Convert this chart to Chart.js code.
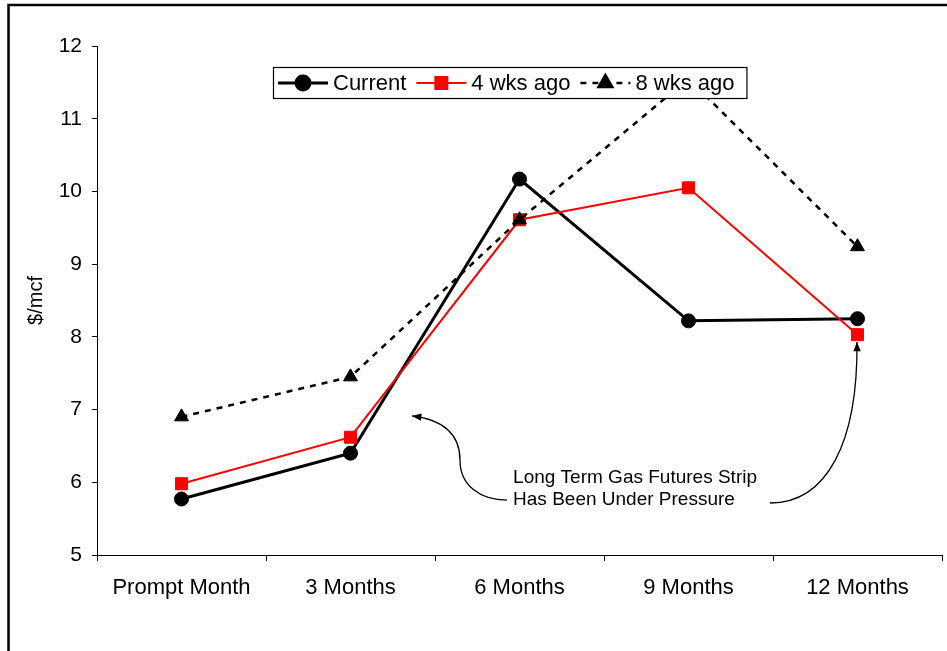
<!DOCTYPE html>
<html>
<head>
<meta charset="utf-8">
<title>Gas Futures Strip</title>
<script src="https://cdn.jsdelivr.net/npm/chart.js@4/dist/chart.umd.min.js"></script>
<style>
  html, body { margin: 0; padding: 0; background: #ffffff; }
  #chart { display: block; }
</style>
</head>
<body>
<canvas id="chart" width="947" height="651"></canvas>
<script>
// Futures strip, $/mcf, at successive points along the curve
const categories = ['Prompt Month', '3 Months', '6 Months', '9 Months', '12 Months'];
const current   = [5.77, 6.40, 10.17, 8.22, 8.25];
const wks4Ago   = [5.98, 6.62, 9.61, 10.05, 8.03];
const wks8Ago   = [6.90, 7.45, 9.61, 11.55, 9.24];
const seriesNames = ['Current', '4 wks ago', '8 wks ago'];
const yTicks = [5, 6, 7, 8, 9, 10, 11, 12];

const FONT = '"Liberation Sans", Arial, sans-serif';

// White page with a heavy frame around the chart
const framePlugin = {
  id: 'frame',
  beforeDraw(chart) {
    const ctx = chart.ctx;
    ctx.save();
    ctx.fillStyle = '#ffffff';
    ctx.fillRect(0, 0, chart.width, chart.height);
    ctx.strokeStyle = '#000000';
    ctx.lineWidth = 2.5;
    ctx.strokeRect(8.5, 5, chart.width + 20, chart.height + 20);
    ctx.restore();
  }
};

// Boxed legend sitting inside the plot area
const boxLegendPlugin = {
  id: 'boxLegend',
  afterDraw(chart) {
    const ctx = chart.ctx;
    const area = chart.chartArea;
    const sets = chart.data.datasets;
    ctx.save();
    ctx.font = '22px ' + FONT;
    const padL = 5, sample = 50, gap = 5, itemGap = 10, padR = 12, h = 31;
    let w = padL + padR;
    sets.forEach((ds, i) => {
      w += sample + gap + ctx.measureText(ds.label).width + (i < sets.length - 1 ? itemGap : 0);
    });
    const x0 = area.left + 176, y0 = area.top + 21;
    ctx.fillStyle = '#ffffff';
    ctx.fillRect(x0, y0, w, h);
    ctx.strokeStyle = '#000000';
    ctx.lineWidth = 1.2;
    ctx.strokeRect(x0 + 0.5, y0 + 0.5, w, h);
    const cy = y0 + h / 2 + 0.5;
    let x = x0 + padL;
    sets.forEach((ds) => {
      ctx.save();
      ctx.strokeStyle = ds.borderColor;
      ctx.lineWidth = ds.borderWidth;
      ctx.setLineDash(ds.borderDash || []);
      ctx.beginPath();
      ctx.moveTo(x, cy);
      ctx.lineTo(x + sample, cy);
      ctx.stroke();
      ctx.setLineDash([]);
      ctx.fillStyle = ds.pointBackgroundColor;
      ctx.strokeStyle = ds.pointBorderColor;
      Chart.helpers.drawPoint(ctx, {
        pointStyle: ds.pointStyle, radius: ds.pointRadius,
        borderWidth: ds.pointBorderWidth, rotation: 0
      }, x + sample / 2, cy);
      ctx.restore();
      x += sample + gap;
      ctx.fillStyle = '#000000';
      ctx.textAlign = 'left';
      ctx.textBaseline = 'middle';
      ctx.fillText(ds.label, x, cy + 1);
      x += ctx.measureText(ds.label).width + itemGap;
    });
    ctx.restore();
  }
};

// Callout text with two curved arrows, anchored in axis units
const calloutPlugin = {
  id: 'callout',
  afterDraw(chart) {
    const ctx = chart.ctx;
    const xs = chart.scales.x, ys = chart.scales.y;
    const P = (i, v) => [xs.getPixelForValue(i), ys.getPixelForValue(v)];
    ctx.save();
    ctx.strokeStyle = '#000000';
    ctx.fillStyle = '#000000';
    ctx.lineWidth = 1.3;

    const arrowHead = (tip, from) => {
      const ang = Math.atan2(tip[1] - from[1], tip[0] - from[0]);
      const len = 10, spread = 0.38;
      ctx.beginPath();
      ctx.moveTo(tip[0], tip[1]);
      ctx.lineTo(tip[0] - len * Math.cos(ang - spread), tip[1] - len * Math.sin(ang - spread));
      ctx.lineTo(tip[0] - len * Math.cos(ang + spread), tip[1] - len * Math.sin(ang + spread));
      ctx.closePath();
      ctx.fill();
    };

    // left arrow: from the text back toward the 3-to-6 month crossing
    const a0 = P(1.926, 5.756), a1 = P(1.766, 5.756), a2 = P(1.648, 5.96), am = P(1.648, 6.30);
    const b1 = P(1.648, 6.66), b2 = P(1.55, 6.86), aEnd = P(1.364, 6.912);
    ctx.beginPath();
    ctx.moveTo(a0[0], a0[1]);
    ctx.bezierCurveTo(a1[0], a1[1], a2[0], a2[1], am[0], am[1]);
    ctx.bezierCurveTo(b1[0], b1[1], b2[0], b2[1], aEnd[0], aEnd[1]);
    ctx.stroke();
    arrowHead(aEnd, b2);

    // right arrow: from the text up to the 12 month point
    const c0 = P(3.482, 5.715), c1 = P(3.82, 5.715), c2 = P(4.003, 6.55), cEnd = P(3.997, 7.93);
    ctx.beginPath();
    ctx.moveTo(c0[0], c0[1]);
    ctx.bezierCurveTo(c1[0], c1[1], c2[0], c2[1], cEnd[0], cEnd[1]);
    ctx.stroke();
    arrowHead(cEnd, c2);

    ctx.font = '19px ' + FONT;
    ctx.textAlign = 'left';
    ctx.textBaseline = 'middle';
    const t1 = P(1.962, 6.06), t2 = P(1.962, 5.756);
    ctx.fillText('Long Term Gas Futures Strip', t1[0], t1[1]);
    ctx.fillText('Has Been Under Pressure', t2[0], t2[1]);
    ctx.restore();
  }
};

new Chart(document.getElementById('chart'), {
  type: 'line',
  data: {
    labels: categories,
    datasets: [
      {
        label: seriesNames[0], data: current, order: 3,
        borderColor: '#000000', borderWidth: 3, tension: 0,
        pointStyle: 'circle', pointRadius: 7, pointBorderWidth: 1,
        pointBackgroundColor: '#000000', pointBorderColor: '#000000'
      },
      {
        label: seriesNames[1], data: wks4Ago, order: 2,
        borderColor: '#ff0000', borderWidth: 2, tension: 0,
        pointStyle: 'rect', pointRadius: 8.5, pointBorderWidth: 1,
        pointBackgroundColor: '#ff0000', pointBorderColor: '#ff0000'
      },
      {
        label: seriesNames[2], data: wks8Ago, order: 1,
        borderColor: '#000000', borderWidth: 2.5, borderDash: [6, 6], tension: 0,
        pointStyle: 'triangle', pointRadius: 8, pointBorderWidth: 1,
        pointBackgroundColor: '#000000', pointBorderColor: '#000000'
      }
    ]
  },
  options: {
    responsive: false,
    devicePixelRatio: 1,
    animation: false,
    events: [],
    layout: { autoPadding: false, padding: { top: 46, right: 5, bottom: 0, left: 0 } },
    plugins: {
      legend: { display: false },
      tooltip: { enabled: false },
      title: { display: false }
    },
    scales: {
      x: {
        type: 'category',
        offset: true,
        border: { display: true, color: '#000000', width: 1 },
        grid: { display: true, offset: true, drawOnChartArea: false, drawTicks: true, tickLength: 6, color: '#000000', lineWidth: 1 },
        ticks: { color: '#000000', font: { family: FONT, size: 22 }, padding: 14, maxRotation: 0, autoSkip: false },
        afterFit(scale) { scale.height = 96; }
      },
      y: {
        min: yTicks[0], max: yTicks[yTicks.length - 1],
        afterBuildTicks(scale) { scale.ticks = yTicks.map(v => ({ value: v })); },
        border: { display: true, color: '#000000', width: 1 },
        grid: { display: true, drawOnChartArea: false, drawTicks: true, tickLength: 5, color: '#000000', lineWidth: 1 },
        ticks: { color: '#000000', font: { family: FONT, size: 21 }, padding: 10 },
        title: { display: true, text: '$/mcf', color: '#000000', font: { family: FONT, size: 20 }, padding: { top: 24, bottom: 0 } },
        afterFit(scale) { scale.width = 97; }
      }
    }
  },
  plugins: [framePlugin, boxLegendPlugin, calloutPlugin]
});
</script>
</body>
</html>
